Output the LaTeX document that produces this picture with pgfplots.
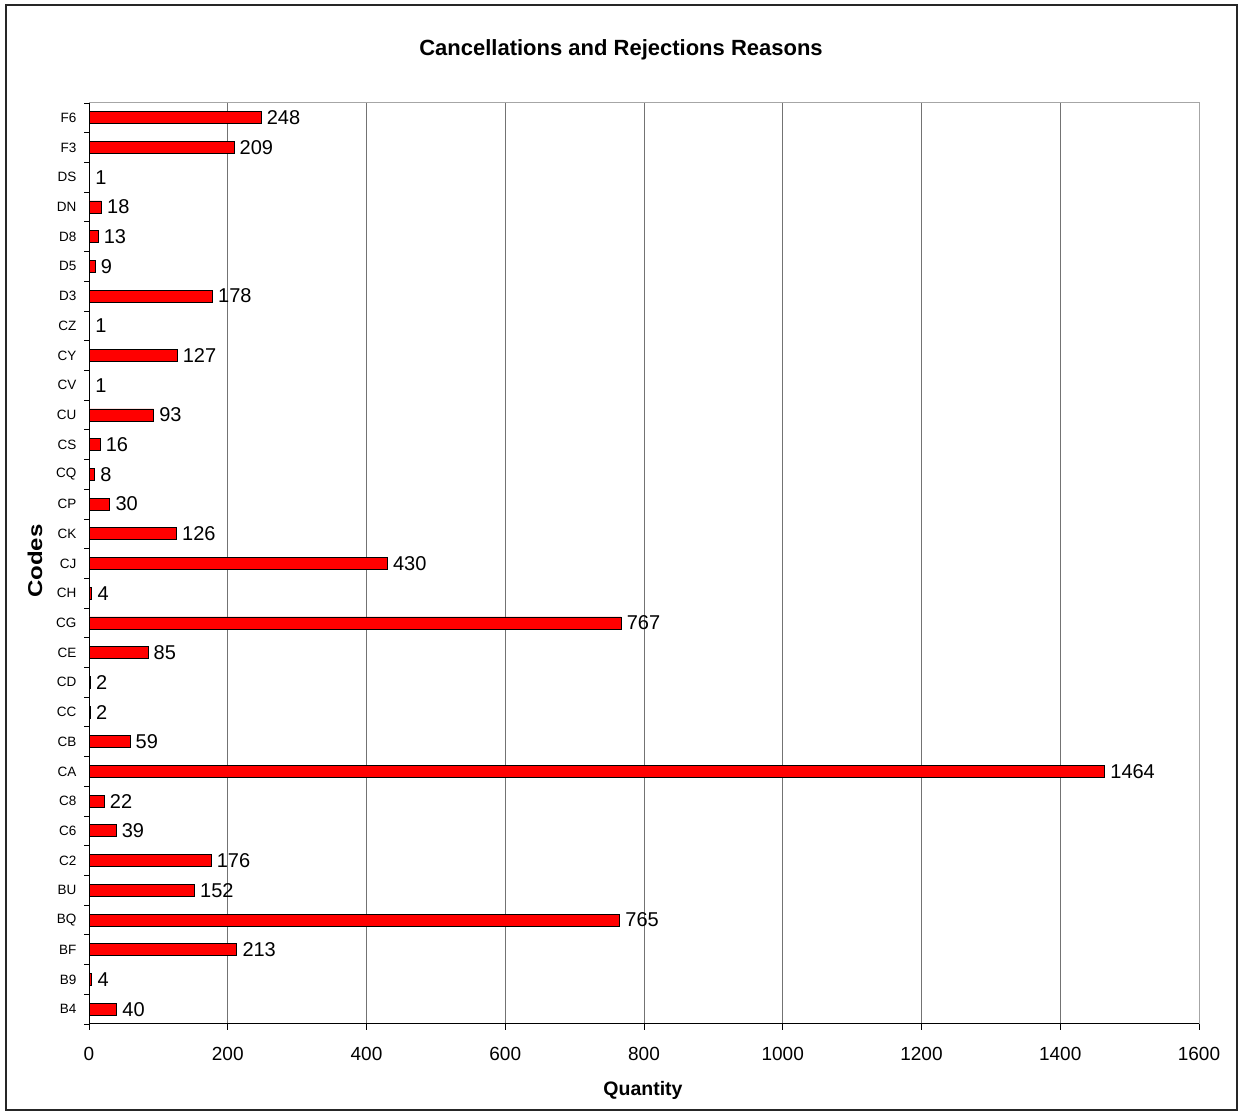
\documentclass[border=0pt]{standalone}
\usepackage{pgfplots}
\pgfplotsset{compat=1.18}
\usepackage{fontspec}
\setmainfont{Liberation Sans}
\begin{document}
\begin{tikzpicture}[x=1pt,y=1pt]
\fill[white] (0,0) rectangle (1242,1116);
\useasboundingbox (0,0) rectangle (1242,1116);
\begin{axis}[
  at={(89pt,92pt)}, anchor=south west,
  scale only axis, width=1110pt, height=921pt,
  xmin=0, xmax=1600, ymin=-0.5, ymax=30.5,
  xbar, bar width=12pt, bar shift=0pt,
  axis x line*=bottom, axis y line*=left,
  axis line style={-, black, line width=1pt},
  xtick={0,200,...,1600},
  ytick={0,...,30},
  yticklabels={B4,B9,BF,BQ,BU,C2,C6,C8,CA,CB,CC,CD,CE,CG,CH,CJ,CK,CP,CQ,CS,CU,CV,CY,CZ,D3,D5,D8,DN,DS,F3,F6},
  minor ytick={-0.5,0.5,...,30.5},
  tick align=outside,
  major tick length=6pt, minor tick length=5pt,
  major y tick style={draw=none},
  tick style={black, line width=0.8pt},
  xmajorgrids, grid style={black!55, line width=0.8pt},
  /pgf/number format/1000 sep={},
  /pgf/number format/assume math mode=true,
  xticklabel style={font=\fontsize{19}{21}\selectfont, yshift=-14pt},
  yticklabel style={font=\fontsize{13.5}{15}\selectfont, xshift=-3pt},
  nodes near coords,
  nodes near coords style={font=\fontsize{20}{22}\selectfont, anchor=west, xshift=2pt, /pgf/number format/1000 sep={}},
  after end axis/.code={\draw[black!35, line width=1pt] (rel axis cs:0,1) -- (rel axis cs:1,1) -- (rel axis cs:1,0);},
]
\addplot[fill=red, draw=black, line width=0.8pt] coordinates {
(40,0) (4,1) (213,2) (765,3) (152,4) (176,5) (39,6) (22,7) (1464,8) (59,9)
(2,10) (2,11) (85,12) (767,13) (4,14) (430,15) (126,16) (30,17) (8,18) (16,19)
(93,20) (1,21) (127,22) (1,23) (178,24) (9,25) (13,26) (18,27) (1,28) (209,29) (248,30)};
\end{axis}
\node[font=\bfseries\fontsize{22}{24}\selectfont] at (621,1066) {Cancellations and Rejections Reasons};
\node[font=\bfseries\fontsize{19.5}{22}\selectfont] at (643,26) {Quantity};
\node[font=\bfseries\fontsize{20}{24}\selectfont, rotate=90] at (35,555) {\scalebox{1.2}[1]{Codes}};
\draw[black!85, line width=2pt] (5.5,5.5) rectangle (1236.5,1110.5);
\end{tikzpicture}
\end{document}
